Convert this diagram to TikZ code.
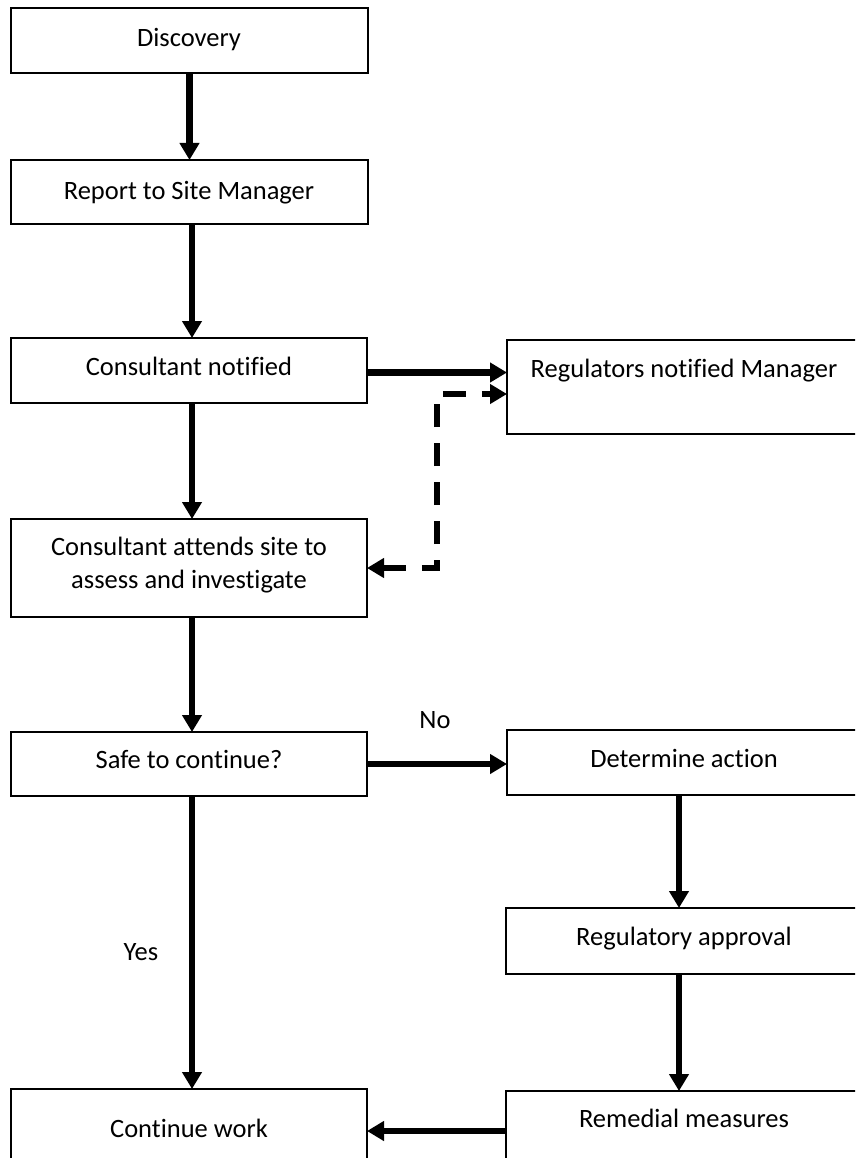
\documentclass[tikz,border=0pt]{standalone}
\usepackage{fontspec}
\setmainfont{Carlito}[Ligatures={NoCommon}]
\usetikzlibrary{arrows.meta}
\tikzset{
  box/.style={draw=black, line width=1.8pt, fill=white, inner sep=0pt, outer sep=0pt},
  txt/.style={inner sep=0pt, outer sep=0pt, font=\fontsize{26.5}{33}\selectfont, align=center},
  flow/.style={line width=6.5pt, -{Triangle[length=17pt,width=19pt]}},
  dasharrow/.style={line width=5.5pt, dash pattern=on 23pt off 16pt,
      {Triangle[length=17pt,width=19pt]}-{Triangle[length=17pt,width=19pt]}},
}
\begin{document}
\begin{tikzpicture}[x=1pt,y=-1pt]
\useasboundingbox (0,0) rectangle (855,1158);
\clip (0,0) rectangle (855,1158);
\fill[white] (0,0) rectangle (855,1158);
% boxes
\node[box, minimum width=357pt, minimum height=65pt] (disc) at (189.5,40.5) {};
\node[box, minimum width=357pt, minimum height=64pt] (rep) at (189.5,192) {};
\node[box, minimum width=356pt, minimum height=65pt] (cn) at (189,370.5) {};
\node[box, minimum width=354pt, minimum height=94pt] (reg) at (684,387) {};
\node[box, minimum width=356pt, minimum height=98pt] (ca) at (189,568) {};
\node[box, minimum width=356pt, minimum height=64pt] (safe) at (189,764) {};
\node[box, minimum width=354pt, minimum height=65pt] (det) at (684,762.5) {};
\node[box, minimum width=356pt, minimum height=66pt] (rap) at (684,941) {};
\node[box, minimum width=356pt, minimum height=100pt] (cont) at (189,1139) {};
\node[box, minimum width=356pt, minimum height=100pt] (rem) at (684,1141) {};
% texts
\node[txt, anchor=base] (disct) at (189,47) {Discovery};
\node[txt, anchor=base] (rept) at (189,200) {Report to Site Manager};
\node[txt, anchor=base] (cnt) at (189,375) {Consultant notified};
\node[txt, anchor=base] (regt) at (684,377) {Regulators notified Manager};
\node[txt, anchor=center] (cat) at (189,565) {Consultant attends site to\\assess and investigate};
\node[txt, anchor=base] (safet) at (189,768) {Safe to continue?};
\node[txt, anchor=base] (dett) at (684,767) {Determine action};
\node[txt, anchor=base] (rapt) at (684,945) {Regulatory approval};
\node[txt, anchor=base] (remt) at (684,1127) {Remedial measures};
\node[txt, anchor=base] (contt) at (189,1137) {Continue work};
\node[txt, anchor=base] (no) at (435,728) {No};
\node[txt, anchor=base] (yes) at (141,960) {Yes};
% helper coordinates
\coordinate (rx) at (679,0);
\coordinate (lx) at (192,0);
\coordinate (dtop) at (437,394);
% connectors
\draw[flow] (disc.south) -- (rep.north);
\draw[flow] (rep.south -| lx) -- (cn.north -| lx);
\draw[flow] (cn.south -| lx) -- (ca.north -| lx);
\draw[flow] (ca.south -| lx) -- (safe.north -| lx);
\draw[flow] (safe.south -| lx) -- (cont.north -| lx);
\draw[flow] ([yshift=-2pt]cn.east) -- ([yshift=-2pt]cn.east -| reg.west);
\draw[flow] (safe.east) -- (safe.east -| det.west);
\draw[flow] (det.south -| rx) -- (rap.north -| rx);
\draw[flow] (rap.south -| rx) -- (rem.north -| rx);
\draw[flow] (rem.west |- 0,1131) -- (cont.east |- 0,1131);
\draw[dasharrow] (ca.east) -| (dtop) -- (dtop -| reg.west);
\end{tikzpicture}
\end{document}
